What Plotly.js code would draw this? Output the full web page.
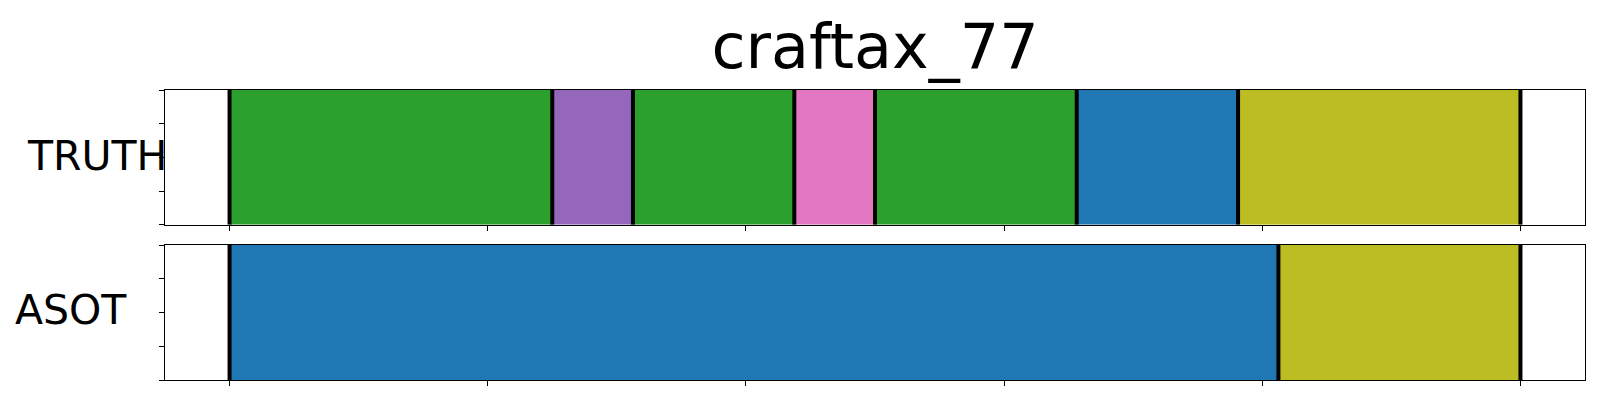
<!DOCTYPE html>
<html>
<head>
<meta charset="utf-8">
<script src="https://cdn.plot.ly/plotly-3.0.1.min.js"></script>
<style>html,body{margin:0;padding:0;background:#fff;}#chart{width:1600px;height:400px;}</style>
</head>
<body>
<div id="chart"></div>
<script>
// ---- data ----
var chartTitle = "craftax_77";
var rowNames = ["TRUTH", "ASOT"];
var totalFrames = 64;
var truthBounds = [0, 16, 20, 28, 32, 42, 50, 64];
var truthClasses = [2, 4, 2, 6, 2, 0, 8];
var asotBounds = [0, 52, 64];
var asotClasses = [0, 8];
var xTickVals = [0, 12.8, 25.6, 38.4, 51.2, 64];
var yTickVals = [0, 0.25, 0.5, 0.75, 1];

var tab10 = ["#1f77b4","#ff7f0e","#2ca02c","#d62728","#9467bd","#8c564b","#e377c2","#7f7f7f","#bcbd22","#17becf"];

function segTraces(bounds, classes, xa, ya) {
  var starts = [], widths = [], colors = [], ys = [];
  for (var i = 0; i < classes.length; i++) {
    starts.push(bounds[i]);
    widths.push(bounds[i+1] - bounds[i]);
    colors.push(tab10[classes[i]]);
    ys.push(0.5);
  }
  var bar = {
    type: "bar", orientation: "h", base: starts, x: widths, y: ys, width: 1,
    marker: {color: colors, line: {width: 0}}, xaxis: xa, yaxis: ya,
    showlegend: false, hoverinfo: "skip"
  };
  var lx = [], ly = [];
  bounds.forEach(function (b) { lx.push(b, b, null); ly.push(0, 1, null); });
  var lines = {
    type: "scatter", mode: "lines", x: lx, y: ly,
    line: {color: "#000", width: 4}, xaxis: xa, yaxis: ya,
    showlegend: false, hoverinfo: "skip", cliponaxis: true
  };
  return [bar, lines];
}

var traces = segTraces(truthBounds, truthClasses, "x", "y")
  .concat(segTraces(asotBounds, asotClasses, "x2", "y2"));

var pad = totalFrames * 0.05;
function xAxis(anchor) {
  return {
    domain: [0, 1], range: [-pad, totalFrames + pad], anchor: anchor,
    showgrid: false, zeroline: false, showline: true, mirror: true,
    linecolor: "#000", linewidth: 1.2,
    ticks: "outside", ticklen: 5, tickwidth: 1, tickcolor: "#000",
    tickmode: "array", tickvals: xTickVals, showticklabels: false, fixedrange: true
  };
}
function yAxis(anchor, dom) {
  return {
    domain: dom, range: [0, 1], anchor: anchor,
    showgrid: false, zeroline: false, showline: true, mirror: true,
    linecolor: "#000", linewidth: 1.2,
    ticks: "outside", ticklen: 4.5, tickwidth: 1, tickcolor: "#000",
    tickmode: "array", tickvals: yTickVals, showticklabels: false, fixedrange: true
  };
}

var layout = {
  width: 1600, height: 400,
  margin: {l: 165, r: 14.7, t: 90.3, b: 19.7, pad: 0},
  paper_bgcolor: "#fff", plot_bgcolor: "#fff",
  font: {family: "DejaVu Sans", color: "#000"},
  title: {text: chartTitle, font: {family: "DejaVu Sans", size: 62, color: "#000"},
          x: 0.5, xref: "paper", y: 0.83, yref: "container", yanchor: "bottom"},
  barmode: "overlay",
  xaxis: xAxis("y"),
  yaxis: yAxis("x", [0.5355, 1]),
  xaxis2: xAxis("y2"),
  yaxis2: yAxis("x2", [0, 0.4655]),
  annotations: [
    {text: rowNames[0], xref: "paper", yref: "paper", x: -0.0479, y: 0.772,
     xanchor: "center", yanchor: "middle", showarrow: false,
     font: {family: "DejaVu Sans", size: 41, color: "#000"}},
    {text: rowNames[1], xref: "paper", yref: "paper", x: -0.0662, y: 0.241,
     xanchor: "center", yanchor: "middle", showarrow: false,
     font: {family: "DejaVu Sans", size: 41, color: "#000"}}
  ]
};

Plotly.newPlot("chart", traces, layout, {staticPlot: true, displayModeBar: false});
</script>
</body>
</html>
